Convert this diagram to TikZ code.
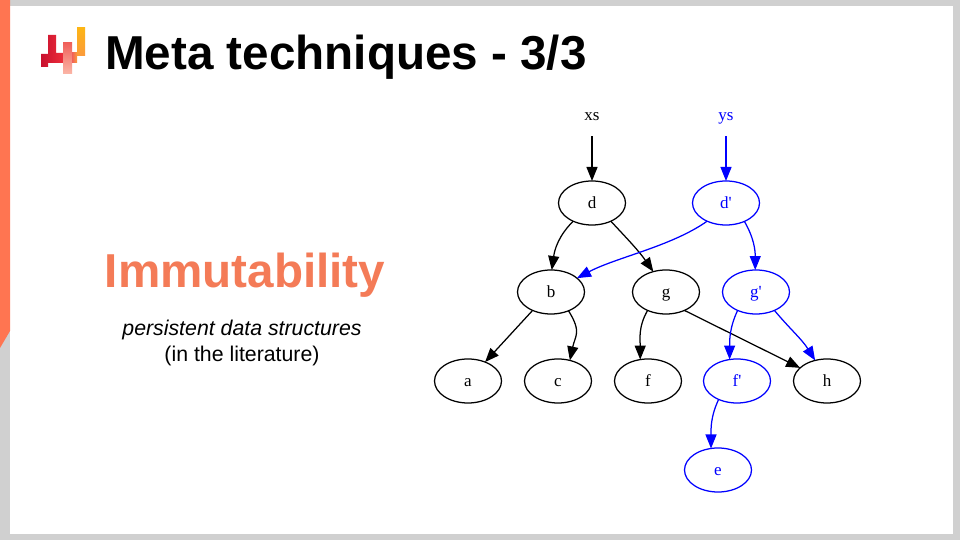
\documentclass[tikz,border=0pt]{standalone}
\usepackage{fontspec}
\usepackage{tikz}
\usetikzlibrary{arrows.meta,shapes.geometric}
\setmainfont{Liberation Sans}
\newfontfamily\graphfont{Liberation Serif}
\definecolor{slidegray}{HTML}{D0D0D0}
\definecolor{coral}{HTML}{F47B57}
\definecolor{strip}{HTML}{FF7551}
\definecolor{graphblue}{HTML}{0000FF}
\definecolor{logodark}{HTML}{C8102E}
\definecolor{logored}{HTML}{EC2D3A}
\definecolor{logopink}{HTML}{F0605A}
\definecolor{logopale}{HTML}{FBB7A8}
\definecolor{logoorange}{HTML}{FB9A3C}
\definecolor{logoamber}{HTML}{FDB515}

\begin{document}
\begin{tikzpicture}[
  x=1pt,y=1pt,
  tree/.style={draw,ellipse,line width=1.25pt,inner sep=0pt,outer sep=0pt,minimum width=67pt,minimum height=44pt,text height=12pt,text depth=0pt,font=\graphfont\fontsize{17}{18}\selectfont},
  root/.style={rectangle,inner sep=0pt,outer sep=0pt,minimum width=30pt,minimum height=43pt,text height=12pt,text depth=0pt,font=\graphfont\fontsize{17}{18}\selectfont},
  edge/.style={-{Triangle[length=14pt,width=11pt]},line width=1.25pt},
  shared/.style={draw=black,text=black},
  copied/.style={draw=graphblue,text=graphblue}
]
\useasboundingbox (0,0) rectangle (960,540);
\fill[slidegray] (0,0) rectangle (960,540);
\fill[white] (10,6) rectangle (953,534);
\fill[strip] (0,540) -- (10,540) -- (10,209) -- (0,192) -- cycle;

% logo
\shade[left color=logodark,right color=logored]
  (41,486) -- (48,486) -- (48,505) -- (56,505) -- (56,487) -- (63,487) -- (63,477) -- (48,477) -- (48,473) -- (41,473) -- cycle;
\shade[top color=logopink,bottom color=logopale] (63,466) rectangle (72,497);
\shade[left color=logopink,right color=logoorange] (72,477) rectangle (77,487);
\shade[top color=logoamber,bottom color=logoorange] (77,484) rectangle (85,512);

\node[anchor=base west,inner sep=0pt,font=\bfseries\fontsize{47.6}{50}\selectfont] (title) at (105,470.5) {Meta techniques - 3/3};
\node[anchor=base,inner sep=0pt,font=\bfseries\fontsize{47.6}{50}\selectfont,text=coral] (topic) at (245,252) {Immutability};
\node[anchor=base,inner sep=0pt,font=\itshape\fontsize{21.3}{26}\selectfont] (note) at (242,204) {persistent data structures};
\node[anchor=base,inner sep=0pt,font=\fontsize{21.3}{26}\selectfont] (source) at (242,178) {(in the literature)};

\node[root] (xs) at (592,425) {xs};
\node[root,text=graphblue] (ys) at (726,425) {ys};
\node[tree,shared] (d) at (592,337) {d};
\node[tree,copied] (dp) at (726,337) {d'};
\node[tree,shared] (b) at (551,248) {b};
\node[tree,shared] (g) at (666,248) {g};
\node[tree,copied] (gp) at (756,248) {g'};
\node[tree,shared] (a) at (468,159) {a};
\node[tree,shared] (c) at (558,159) {c};
\node[tree,shared] (f) at (648,159) {f};
\node[tree,copied] (fp) at (737,159) {f'};
\node[tree,shared] (h) at (827,159) {h};
\node[tree,copied] (e) at (718,70) {e};

\draw[edge] (xs) -- (d);
\draw[edge] (d.-136) to[out=-135,in=82] (b.88);
\draw[edge] (d.-44) to[out=-47,in=125] (g.122);
\draw[edge] (b.-135) -- (a.48);
\draw[edge] (b.-47) to[out=-58,in=78,looseness=1.3] (c.60);
\draw[edge] (g.-135) to[out=-120,in=90] (f.110);
\draw[edge] (g.-45) -- (h.154);

\begin{scope}[graphblue]
\draw[edge] (ys) -- (dp);
\draw[edge] (dp.-136) to[out=-145,in=28,looseness=.8] (b.28);
\draw[edge] (dp.-45) to[out=-60,in=90] (gp.92);
\draw[edge] (gp.-135) to[out=-115,in=90] (fp.109);
\draw[edge] (gp.-45) to[out=-50,in=122] (h.120);
\draw[edge] (fp.-135) to[out=-115,in=90] (e.108);
\end{scope}
\end{tikzpicture}
\end{document}
